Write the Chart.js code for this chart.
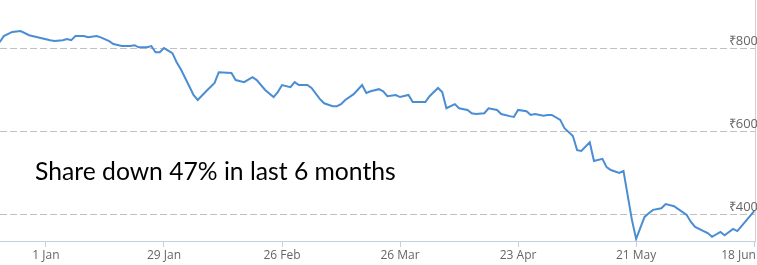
<!DOCTYPE html>
<html>
<head>
<meta charset="utf-8">
<script src="https://cdn.jsdelivr.net/npm/chart.js@4/dist/chart.umd.min.js"></script>
<style>
  html, body { margin: 0; padding: 0; background: #fff; }
  #wrap { position: relative; width: 757px; height: 265px; }
  #note { position: absolute; left: 35px; top: 156px; font-family: Lato, "Open Sans", sans-serif; font-size: 24.7px; color: #000; white-space: nowrap; }
</style>
</head>
<body>
<div id="wrap">
  <canvas id="c" width="757" height="265"></canvas>
  <div id="note">Share down 47% in last 6 months</div>
</div>
<script>
// Days counted from 1 Jan 2018
const days = [-11,-10,-8,-6,-4,-1,1,2,4,5,6,7,9,10,12,13,15,16,18,20,21,22,24,25,26,27,28,30,31,32,34,35,36,38,40,41,44,45,47,49,50,52,54,55,56,58,59,60,62,63,65,66,68,69,70,71,73,75,76,77,79,80,81,83,84,86,87,88,90,91,93,94,95,97,98,100,101,102,104,105,107,108,110,111,112,114,115,116,118,119,120,122,123,125,126,127,129,130,132,133,134,136,137,139,140,142,143,144,146,147,149,150,152,153,154,156,157,158,160,161,163,164,165,167,168];
const prices = [814,829,839,841,831,824,819,817,819,822,819,829,829,826,829,826,817,810,805,805,807,802,802,805,790,790,800,788,766,749,708,687,675,696,716,742,740,723,718,730,723,699,682,694,711,706,718,711,711,704,677,667,660,660,665,675,689,711,692,696,701,696,684,687,682,687,670,670,670,684,704,694,655,665,655,651,643,641,643,655,651,641,636,634,651,648,639,641,637,639,639,627,607,588,554,552,573,528,533,513,506,499,504,386,340,393,402,410,414,424,419,412,398,381,369,359,354,345,357,349,364,359,371,395,407];
const tickDays = [0,28,56,84,112,140,168];
const tickLabels = ['1 Jan','29 Jan','26 Feb','26 Mar','23 Apr','21 May','18 Jun'];
const priceTicks = [400,600,800];

const points = days.map((d, i) => ({x: d, y: prices[i]}));

new Chart(document.getElementById('c'), {
  type: 'line',
  data: { datasets: [{
    data: points,
    borderColor: '#4a8dd3',
    borderWidth: 2,
    pointRadius: 0,
    tension: 0,
    fill: false
  }]},
  options: {
    responsive: false,
    animation: false,
    devicePixelRatio: 1,
    layout: { padding: 0 },
    plugins: { legend: { display: false }, tooltip: { enabled: false } },
    scales: {
      x: {
        type: 'linear',
        min: -10.9,
        max: 168.2,
        afterBuildTicks: s => { s.ticks = tickDays.map(v => ({value: v})); },
        afterFit: s => { s.height = 24; s.paddingLeft = 0; s.paddingRight = 0; },
        grid: { drawOnChartArea: false, drawTicks: true, tickLength: 6, color: '#c0d0e0' },
        border: { display: true, color: '#c0d0e0', width: 1 },
        ticks: {
          autoSkip: false, maxRotation: 0, padding: 1,
          color: '#666', font: { family: 'Open Sans', size: 12 },
          callback: (v) => {
            const i = tickDays.indexOf(v);
            if (i < 0) return '';
            return i === tickDays.length - 1 ? tickLabels[i] + '          ' : tickLabels[i];
          }
        }
      },
      y: {
        position: 'right',
        min: 335,
        max: 916,
        afterBuildTicks: s => { s.ticks = priceTicks.map(v => ({value: v})); },
        afterFit: s => { s.width = 2; s.paddingTop = 0; s.paddingBottom = 0; },
        grid: { drawTicks: false, color: '#c0c0c0', lineWidth: 1 },
        border: { display: true, color: '#d0d0d0', width: 1, dash: [7, 3] },
        ticks: {
          mirror: true, padding: 3, labelOffset: -7,
          color: '#666', font: { family: 'Open Sans', size: 13 },
          callback: v => '₹' + v
        }
      }
    }
  }
});
</script>
</body>
</html>
